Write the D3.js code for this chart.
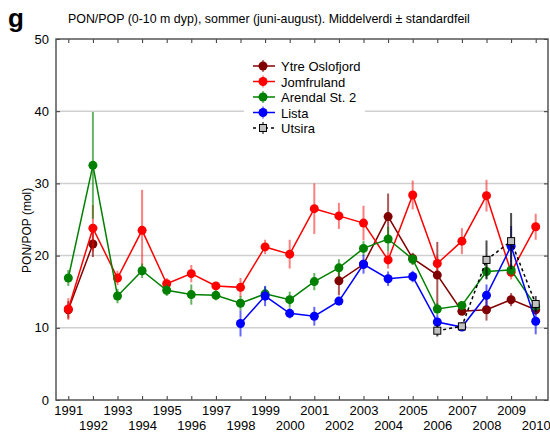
<!DOCTYPE html>
<html>
<head>
<meta charset="utf-8">
<script src="https://cdn.jsdelivr.net/npm/d3@7"></script>
<style>
  body { margin: 0; background: #fff; }
  svg { font-family: "Liberation Sans", Arial, sans-serif; }
</style>
</head>
<body>
<div id="chart"></div>
<script>
// years on the x axis
const years = d3.range(1991, 2011);
const yTicks = [0, 10, 20, 30, 40, 50];

// mean values per station (null = no data)
const ytre    = [12.5, 21.6, null, null, null, null, null, null, null, null, null, 16.5, 18.8, 25.4, 19.6, 17.3, 12.3, 12.5, 13.9, 12.5];
const jomfru  = [12.6, 23.8, 16.9, 23.5, 16.1, 17.5, 15.8, 15.6, 21.2, 20.2, 26.5, 25.5, 24.5, 19.4, 28.4, 18.9, 22.0, 28.3, 17.7, 24.0];
const arendal = [16.9, 32.5, 14.4, 17.9, 15.2, 14.6, 14.5, 13.4, 14.7, 13.9, 16.4, 18.3, 21.0, 22.3, 19.5, 12.6, 13.1, 17.8, 18.0, 13.0];
const lista   = [null, null, null, null, null, null, null, 10.6, 14.4, 12.0, 11.6, 13.7, 18.8, 16.8, 17.1, 10.8, 10.1, 14.5, 21.3, 10.9];
const utsira  = [null, null, null, null, null, null, null, null, null, null, null, null, null, null, null, 9.6, 10.2, 19.4, 22.0, 13.3];

// standard errors
const ytreSe    = [1.2, 1.8, null, null, null, null, null, null, null, null, null, 2.0, 0.6, 3.2, 0.8, 4.6, 0.5, 1.5, 0.9, 0.7];
const jomfruSe  = [1.5, 3.2, 1.0, 5.6, 0.8, 1.2, 0.5, 1.3, 1.0, 2.0, 3.5, 1.8, 2.4, 1.2, 2.0, 1.0, 1.8, 2.2, 1.0, 1.8];
const arendalSe = [1.1, 7.4, 1.0, 1.0, 0.8, 1.4, 0.7, 1.0, 1.0, 1.1, 1.2, 1.2, 1.0, 1.7, 0.8, 0.8, 0.5, 1.0, 0.8, 0.8];
const listaSe   = [null, null, null, null, null, null, null, 1.8, 1.4, 0.7, 1.3, 0.6, 1.3, 1.0, 0.8, 1.0, 0.5, 1.5, 2.8, 1.8];
const utsiraSe  = [null, null, null, null, null, null, null, null, null, null, null, null, null, null, null, 0.8, 0.5, 2.7, 3.9, 1.1];

const stations = ["Ytre Oslofjord", "Jomfruland", "Arendal St. 2", "Lista", "Utsira"];

const series = [
    { name: stations[0], values: ytre,    se: ytreSe,    color: "#800000", err: "rgba(128,0,0,0.65)" },
    { name: stations[1], values: jomfru,  se: jomfruSe,  color: "#ff0000", err: "rgba(255,0,0,0.5)" },
    { name: stations[2], values: arendal, se: arendalSe, color: "#008000", err: "rgba(0,128,0,0.6)" },
    { name: stations[3], values: lista,   se: listaSe,   color: "#0000ff", err: "rgba(0,0,255,0.6)" },
    { name: stations[4], values: utsira,  se: utsiraSe,  color: "#000000", err: "rgba(0,0,0,0.7)", square: true }
];

const width = 550, height = 434;
const margin = { top: 39, right: 2, bottom: 34, left: 56 };
const innerW = width - margin.left - margin.right;
const innerH = height - margin.top - margin.bottom;

const svg = d3.select("#chart").append("svg")
    .attr("width", width)
    .attr("height", height);

// panel letter + title
svg.append("text").attr("x", 8).attr("y", 27)
    .style("font-size", "26px").style("font-weight", "bold").text("g");
svg.append("text").attr("x", 68).attr("y", 23)
    .style("font-size", "12.4px")
    .text("PON/POP (0-10 m dyp), sommer (juni-august). Middelverdi \u00b1 standardfeil");

const g = svg.append("g").attr("transform", `translate(${margin.left},${margin.top})`);

const x = d3.scaleLinear().domain([1990.5, 2010.5]).range([0, innerW]);
const y = d3.scaleLinear().domain([0, 50]).range([innerH, 0]);

// grid
g.selectAll(".grid").data(yTicks.filter(d => d > 0 && d < 50)).enter()
    .append("line")
    .attr("x1", 0).attr("x2", innerW)
    .attr("y1", d => y(d)).attr("y2", d => y(d))
    .attr("stroke", "#d0d0d0").attr("stroke-width", 1.5);

// axes with inward ticks
const axLeft = g.append("g")
    .call(d3.axisLeft(y).tickValues(yTicks).tickSize(-4).tickPadding(7));
const axRight = g.append("g").attr("transform", `translate(${innerW},0)`)
    .call(d3.axisRight(y).tickValues(yTicks).tickSize(-4).tickFormat(""));
const axTop = g.append("g")
    .call(d3.axisTop(x).tickValues(years).tickSize(-4).tickFormat(""));
const axBottom = g.append("g").attr("transform", `translate(0,${innerH})`)
    .call(d3.axisBottom(x).tickValues(years).tickSize(-4).tickPadding(6).tickFormat(d3.format("d")));

[axLeft, axRight, axTop, axBottom].forEach(a => {
    a.select(".domain").remove();
    a.selectAll("line").attr("stroke", "#333");
    a.selectAll("text").style("font-size", "13px").attr("fill", "#000");
});
axBottom.selectAll("text").attr("dy", (d, i) => i % 2 === 0 ? "0.71em" : "1.86em");

// frame
g.append("rect").attr("width", innerW).attr("height", innerH)
    .attr("fill", "none").attr("stroke", "#555").attr("stroke-width", 1.5);

// y label
svg.append("text")
    .attr("transform", `translate(31,${margin.top + innerH * 0.53}) rotate(-90)`)
    .attr("text-anchor", "middle")
    .style("font-size", "12px")
    .text("PON/POP (mol)");

const line = d3.line()
    .defined(d => d.v !== null)
    .x(d => x(d.year))
    .y(d => y(d.v));

series.forEach(s => {
    const pts = years.map((yr, i) => ({ year: yr, v: s.values[i], se: s.se[i] }));
    const valid = pts.filter(d => d.v !== null);

    // error bars
    g.append("g").selectAll("line").data(valid).enter()
        .append("line")
        .attr("x1", d => x(d.year)).attr("x2", d => x(d.year))
        .attr("y1", d => y(d.v - d.se)).attr("y2", d => y(d.v + d.se))
        .attr("stroke", s.err).attr("stroke-width", 2);

    g.append("path").datum(pts)
        .attr("d", line)
        .attr("fill", "none")
        .attr("stroke", s.color)
        .attr("stroke-width", 1.5)
        .attr("stroke-dasharray", s.square ? "3,3" : null);

    if (s.square) {
        g.append("g").selectAll("rect").data(valid).enter()
            .append("rect")
            .attr("x", d => x(d.year) - 3.5).attr("y", d => y(d.v) - 3.5)
            .attr("width", 7).attr("height", 7)
            .attr("fill", "#c0c0c0").attr("stroke", "#000").attr("stroke-width", 1);
    } else {
        g.append("g").selectAll("circle").data(valid).enter()
            .append("circle")
            .attr("cx", d => x(d.year)).attr("cy", d => y(d.v))
            .attr("r", 4.5)
            .attr("fill", s.color);
    }
});

// legend
const legend = svg.append("g").attr("transform", "translate(244,56)");
legend.append("rect").attr("width", 121).attr("height", 82).attr("fill", "#fff");
series.forEach((s, i) => {
    const row = legend.append("g").attr("transform", `translate(0,${10 + i * 15.5})`);
    row.append("line").attr("x1", 9).attr("x2", 31).attr("y1", 0).attr("y2", 0)
        .attr("stroke", s.color).attr("stroke-width", 1.5)
        .attr("stroke-dasharray", s.square ? "3,3" : null);
    row.append("line").attr("x1", 19).attr("x2", 19).attr("y1", -6).attr("y2", 6)
        .attr("stroke", s.err).attr("stroke-width", 1.5);
    if (s.square) {
        row.append("rect").attr("x", 15.5).attr("y", -3.5).attr("width", 7).attr("height", 7)
            .attr("fill", "#c0c0c0").attr("stroke", "#000");
    } else {
        row.append("circle").attr("cx", 19).attr("cy", 0).attr("r", 4.5).attr("fill", s.color);
    }
    row.append("text").attr("x", 37).attr("y", 5)
        .style("font-size", "13px").text(s.name);
});
</script>
</body>
</html>
